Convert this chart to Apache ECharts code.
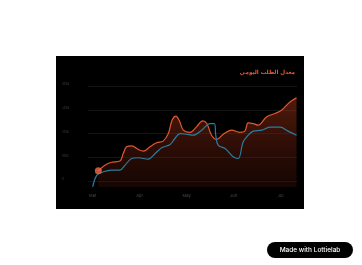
<!DOCTYPE html>
<html>
<head>
<meta charset="UTF-8">
<title>معدل الطلب اليومي</title>
<script src="https://cdn.jsdelivr.net/npm/echarts@6/dist/echarts.min.js"></script>
<style>
  html, body { margin: 0; padding: 0; background: #fff; }
  #panel { position: absolute; left: 56px; top: 56px; width: 248px; height: 153px; background: #000; }
  #main { position: absolute; left: 0; top: 0; width: 362px; height: 265px; }
</style>
</head>
<body>
<div id="panel"></div>
<div id="main"></div>
<script>
// month labels along the bottom (tick 0 = Mar)
var monthLabels = ['Mar', 'Apr', 'May', 'Jun', 'Jul'];
var yTickLabels = { 0: '0', 100: '100k', 200: '200k', 300: '300k', 400: '400k' };

// orange series (month offset, value)
var orangeX = [0.12, 0.26, 0.40, 0.58, 0.65, 0.72, 0.83, 0.97, 1.08, 1.22, 1.36, 1.50, 1.61, 1.69, 1.77, 1.84, 1.93, 2.07, 2.21, 2.34, 2.43, 2.53, 2.64, 2.78, 2.96, 3.13, 3.24, 3.31, 3.42, 3.52, 3.70, 3.88, 4.02, 4.20, 4.34];
var orangeY = [43, 67, 79, 84, 116, 144, 148, 133, 126, 144, 161, 168, 200, 256, 273, 256, 214, 205, 228, 253, 242, 193, 175, 197, 214, 205, 210, 245, 242, 235, 270, 284, 298, 333, 350];

// blue series
var blueX = [0.00, 0.09, 0.23, 0.40, 0.58, 0.69, 0.83, 0.97, 1.18, 1.33, 1.47, 1.65, 1.75, 1.86, 2.00, 2.14, 2.32, 2.50, 2.59, 2.62, 2.67, 2.82, 2.99, 3.10, 3.20, 3.28, 3.42, 3.60, 3.77, 3.99, 4.16, 4.34];
var blueY = [-24, 25, 39, 46, 46, 67, 95, 98, 92, 116, 140, 154, 179, 200, 197, 193, 214, 242, 242, 193, 151, 137, 102, 95, 163, 186, 210, 214, 227, 227, 210, 193];

function zip(xs, ys) {
  var out = [];
  for (var i = 0; i < xs.length; i++) out.push([xs[i], ys[i]]);
  return out;
}

var chart = echarts.init(document.getElementById('main'), null, { renderer: 'canvas' });

var option = {
  backgroundColor: 'transparent',
  animation: false,
  title: {
    text: 'معدل الطلب اليومي',
    right: 62,
    top: 65,
    textStyle: { color: '#f0552e', fontSize: 5.6, fontWeight: 'bold', fontFamily: 'DejaVu Sans' }
  },
  grid: { left: 88, right: 65, top: 86, bottom: 78 },
  xAxis: {
    type: 'value',
    min: -0.1,
    max: 4.35,
    axisLine: { show: false },
    axisTick: { show: false },
    splitLine: { show: false },
    axisLabel: {
      color: '#4a4a4a',
      fontSize: 4,
      margin: 7,
      fontFamily: 'Inter',
      formatter: function (v) {
        var r = Math.round(v);
        if (Math.abs(v - r) > 1e-6) return '';
        return monthLabels[r] || '';
      }
    }
  },
  yAxis: {
    type: 'value',
    min: -25,
    max: 400,
    axisLine: { show: false },
    axisTick: { show: false },
    splitLine: { showMinLine: false, lineStyle: { color: '#222', width: 0.6 } },
    axisLabel: {
      color: '#3e3e3e',
      fontSize: 3,
      align: 'left',
      verticalAlign: 'bottom',
      margin: 26,
      fontFamily: 'Inter',
      formatter: function (v) {
        var r = Math.round(v);
        return yTickLabels[r] !== undefined && Math.abs(v - r) < 1e-6 ? yTickLabels[r] : '';
      }
    }
  },
  series: [
    {
      type: 'line',
      data: zip(orangeX, orangeY),
      smooth: 0.35,
      showSymbol: false,
      lineStyle: { color: '#e0582f', width: 1.2 },
      areaStyle: {
        origin: 'start',
        color: new echarts.graphic.LinearGradient(0, 0, 0, 1, [
          { offset: 0, color: 'rgba(165, 52, 24, 0.72)' },
          { offset: 1, color: 'rgba(80, 20, 8, 0.4)' }
        ])
      },
      z: 2
    },
    {
      type: 'line',
      data: zip(blueX, blueY),
      smooth: 0.35,
      showSymbol: false,
      lineStyle: { color: '#2b7da0', width: 1.2 },
      z: 3
    },
    {
      type: 'scatter',
      data: [[orangeX[0], orangeY[0]]],
      symbolSize: 7,
      itemStyle: { color: '#f2694a' },
      z: 4
    }
  ],
  graphic: [
    {
      type: 'rect',
      shape: { x: 267, y: 242, width: 86, height: 16, r: 8 },
      style: { fill: '#000' }
    },
    {
      type: 'text',
      x: 310,
      y: 250,
      style: {
        text: 'Made with Lottielab',
        fill: '#fff',
        fontSize: 6.5,
        fontFamily: 'Inter',
        fontWeight: 500,
        align: 'center',
        verticalAlign: 'middle'
      }
    }
  ]
};

chart.setOption(option);
</script>
</body>
</html>
